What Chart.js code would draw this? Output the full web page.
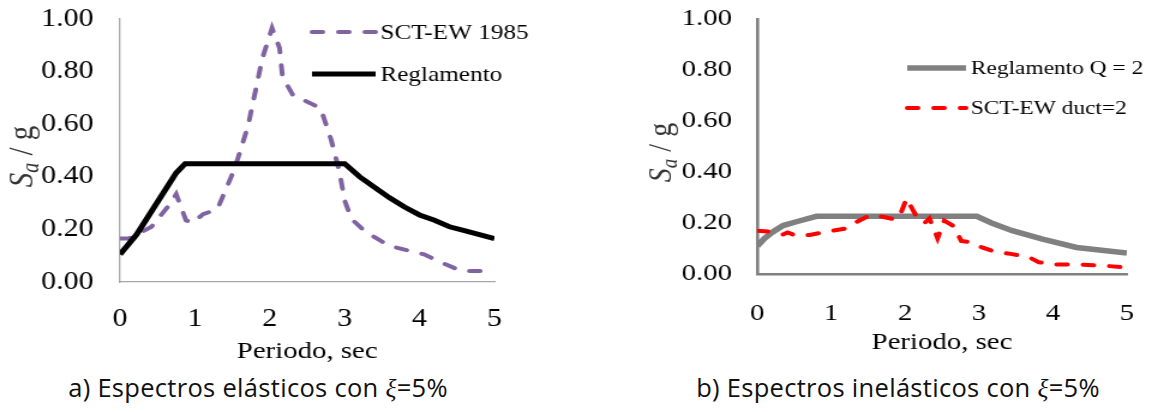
<!DOCTYPE html>
<html>
<head>
<meta charset="utf-8">
<script src="https://cdn.jsdelivr.net/npm/chart.js@4.4.1/dist/chart.umd.min.js"></script>
<style>
  body { margin: 0; background: #fff; width: 1151px; height: 412px; position: relative; overflow: hidden; }
  /* the source figure is stretched horizontally (~1.2x), so the canvases are too */
  canvas { position: absolute; top: 0; }
  #chartA { left: 0; width: 576px !important; height: 370px !important; }
  #chartB { left: 600px; width: 552px !important; height: 370px !important; }
  .caption { position: absolute; top: 370px; width: 520px; text-align: center;
             font-family: "Open Sans", sans-serif; font-size: 25.5px; letter-spacing: 0.3px; color: #111; }
  .caption i { font-family: "Liberation Serif", serif; }
</style>
</head>
<body>
<canvas id="chartA" width="480" height="370" style="width:576px;height:370px"></canvas>
<canvas id="chartB" width="460" height="370" style="width:552px;height:370px"></canvas>
<div class="caption" style="left:-2px">a) Espectros elásticos con <i>ξ</i>=5%</div>
<div class="caption" style="left:638px">b) Espectros inelásticos con <i>ξ</i>=5%</div>
<script>
// a) espectros elásticos
const periodoSct = [0, 0.12, 0.42, 0.65, 0.75, 0.88, 0.97, 1.11, 1.3, 1.53, 1.71, 1.9, 2.03, 2.13, 2.17, 2.31, 2.54, 2.68, 2.82, 2.93, 3.0, 3.09, 3.28, 3.6, 4.06, 4.29, 4.56, 5.0];
const sctEw1985 = [0.165, 0.165, 0.21, 0.29, 0.334, 0.235, 0.225, 0.258, 0.277, 0.43, 0.594, 0.85, 0.965, 0.89, 0.78, 0.71, 0.68, 0.66, 0.54, 0.42, 0.31, 0.24, 0.19, 0.137, 0.105, 0.074, 0.042, 0.042];
const periodoReg = [0, 0.22, 0.75, 0.87, 3.0, 3.2, 3.4, 3.6, 3.8, 4.0, 4.2, 4.4, 4.6, 4.8, 5.0];
const reglamento = [0.105, 0.18, 0.415, 0.45, 0.45, 0.40, 0.36, 0.32, 0.285, 0.255, 0.235, 0.21, 0.195, 0.18, 0.165];

// b) espectros inelásticos
const periodoRegQ2 = [0, 0.1, 0.2, 0.35, 0.53, 0.8, 2.97, 3.17, 3.45, 3.86, 4.32, 5.0];
const reglamentoQ2 = [0.11, 0.14, 0.163, 0.19, 0.205, 0.226, 0.226, 0.2, 0.17, 0.137, 0.104, 0.082];
const periodoDuct = [0, 0.16, 0.34, 0.41, 0.53, 0.71, 0.94, 1.21, 1.35, 1.53, 1.67, 1.85, 1.92, 2.02, 2.15, 2.26, 2.33, 2.44, 2.53, 2.65, 2.76, 2.9, 3.04, 3.22, 3.45, 3.68, 3.81, 4.04, 4.36, 4.68, 5.0];
const sctEwDuct2 = [0.17, 0.166, 0.154, 0.163, 0.15, 0.153, 0.166, 0.179, 0.205, 0.231, 0.226, 0.215, 0.222, 0.296, 0.228, 0.199, 0.218, 0.14, 0.209, 0.189, 0.13, 0.124, 0.104, 0.087, 0.078, 0.065, 0.046, 0.037, 0.037, 0.033, 0.025];

const xTicks = [0, 1, 2, 3, 4, 5];
const yTicks = [0, 0.2, 0.4, 0.6, 0.8, 1.0];

const serif = '"Liberation Serif", "Times New Roman", serif';

function toPoints(xs, ys) {
  return xs.map((x, i) => ({ x: x, y: ys[i] }));
}

// titulo del eje Y con subindice (S_a / g)
const yTitlePlugin = {
  id: 'yTitle',
  afterDraw(chart, args, o) {
    const ctx = chart.ctx;
    const area = chart.chartArea;
    const big = 'italic ' + o.size + 'px ' + serif;
    const small = 'italic ' + Math.round(o.size * 0.68) + 'px ' + serif;
    const reg = o.size + 'px ' + serif;
    ctx.save();
    ctx.translate(o.x, (area.top + area.bottom) / 2 + o.dy);
    ctx.rotate(-Math.PI / 2);
    ctx.fillStyle = '#333';
    ctx.textBaseline = 'alphabetic';
    ctx.font = big; const w1 = ctx.measureText('S').width;
    ctx.font = small; const w2 = ctx.measureText('a').width;
    ctx.font = reg; const w3 = ctx.measureText(' / g').width;
    let x = -(w1 + w2 + w3) / 2;
    const base = o.size * 0.33;
    ctx.font = big; ctx.fillText('S', x, base); x += w1;
    ctx.font = small; ctx.fillText('a', x, base + o.size * 0.18); x += w2;
    ctx.font = reg; ctx.fillText(' / g', x, base);
    ctx.restore();
  }
};

// leyenda dentro del area del grafico
const lineLegendPlugin = {
  id: 'lineLegend',
  afterDraw(chart, args, o) {
    const ctx = chart.ctx;
    chart.data.datasets.forEach((ds, i) => {
      const y = o.y + i * o.gap;
      ctx.save();
      ctx.strokeStyle = ds.borderColor;
      ctx.lineWidth = ds.borderWidth;
      ctx.lineCap = ds.borderCapStyle || 'butt';
      ctx.setLineDash(ds.borderDash || []);
      ctx.beginPath();
      ctx.moveTo(o.x, y);
      ctx.lineTo(o.x + o.len, y);
      ctx.stroke();
      ctx.setLineDash([]);
      ctx.fillStyle = '#000';
      ctx.font = o.size + 'px ' + serif;
      ctx.textBaseline = 'middle';
      ctx.fillText(ds.label, o.x + o.len + 4, y + 1);
      ctx.restore();
    });
  }
};

function makeChart(id, datasets, cfg) {
  const ctx = document.getElementById(id).getContext('2d');
  return new Chart(ctx, {
    type: 'scatter',
    data: { datasets: datasets },
    options: {
      responsive: false,
      animation: false,
      devicePixelRatio: 1,
      layout: { padding: { top: cfg.top, right: cfg.right, left: 0, bottom: 0 } },
      plugins: {
        legend: { display: false },
        tooltip: { enabled: false },
        yTitle: cfg.yTitle,
        lineLegend: cfg.legend,
      },
      scales: {
        x: {
          type: 'linear', min: 0, max: 5,
          afterBuildTicks: (s) => { s.ticks = xTicks.map((v) => ({ value: v })); },
          afterFit: (s) => { s.height = cfg.xHeight; s.paddingLeft = 0; s.paddingRight = 0; },
          grid: { display: false, drawTicks: false },
          border: { display: true, color: cfg.axisColor, width: cfg.axisWidth },
          ticks: { padding: cfg.xPad, color: '#000', font: { family: serif, size: cfg.tickSize }, maxRotation: 0 },
          title: { display: true, text: 'Periodo, sec', color: '#000', font: { family: serif, size: cfg.titleSize }, padding: { top: 0, bottom: cfg.titlePad } },
        },
        y: {
          type: 'linear', min: 0, max: 1,
          afterBuildTicks: (s) => { s.ticks = yTicks.map((v) => ({ value: v })); },
          afterFit: (s) => { s.width = cfg.yWidth; s.paddingTop = 0; s.paddingBottom = 0; },
          grid: { display: false, drawTicks: false },
          border: { display: true, color: cfg.axisColor, width: cfg.axisWidth },
          ticks: { padding: cfg.yPad, color: '#000', font: { family: serif, size: cfg.tickSize }, callback: (v) => v.toFixed(2) },
        },
      },
    },
    plugins: [yTitlePlugin, lineLegendPlugin],
  });
}

makeChart('chartA', [
  {
    label: 'SCT-EW 1985', data: toPoints(periodoSct, sctEw1985), showLine: true,
    borderColor: '#8064A2', borderWidth: 4, borderDash: [9, 13], borderCapStyle: 'round',
    pointRadius: 0, tension: 0, order: 2,
  },
  {
    label: 'Reglamento', data: toPoints(periodoReg, reglamento), showLine: true,
    borderColor: '#000000', borderWidth: 5, pointRadius: 0, tension: 0, order: 1,
  },
], {
  top: 19, right: 68, yWidth: 100, xHeight: 88, xPad: 22, yPad: 22,
  tickSize: 25, titleSize: 24, titlePad: 4,
  axisColor: '#A6A6A6', axisWidth: 1.3,
  yTitle: { x: 17, dy: 6, size: 29 },
  legend: { x: 260, y: 32, gap: 42, len: 53, size: 21 },
});

makeChart('chartB', [
  {
    label: 'Reglamento Q = 2', data: toPoints(periodoRegQ2, reglamentoQ2), showLine: true,
    borderColor: '#808080', borderWidth: 5.5, pointRadius: 0, tension: 0, order: 2,
  },
  {
    label: 'SCT-EW duct=2', data: toPoints(periodoDuct, sctEwDuct2), showLine: true,
    borderColor: '#FF0000', borderWidth: 4, borderDash: [9, 13], borderCapStyle: 'round',
    pointRadius: 0, tension: 0, order: 1,
  },
], {
  top: 19, right: 21, yWidth: 131, xHeight: 96, xPad: 25, yPad: 21,
  tickSize: 24, titleSize: 24, titlePad: 13,
  axisColor: '#808080', axisWidth: 2.6,
  yTitle: { x: 50, dy: 6, size: 28 },
  legend: { x: 256, y: 68, gap: 40, len: 49, size: 19.5 },
});
</script>
</body>
</html>
